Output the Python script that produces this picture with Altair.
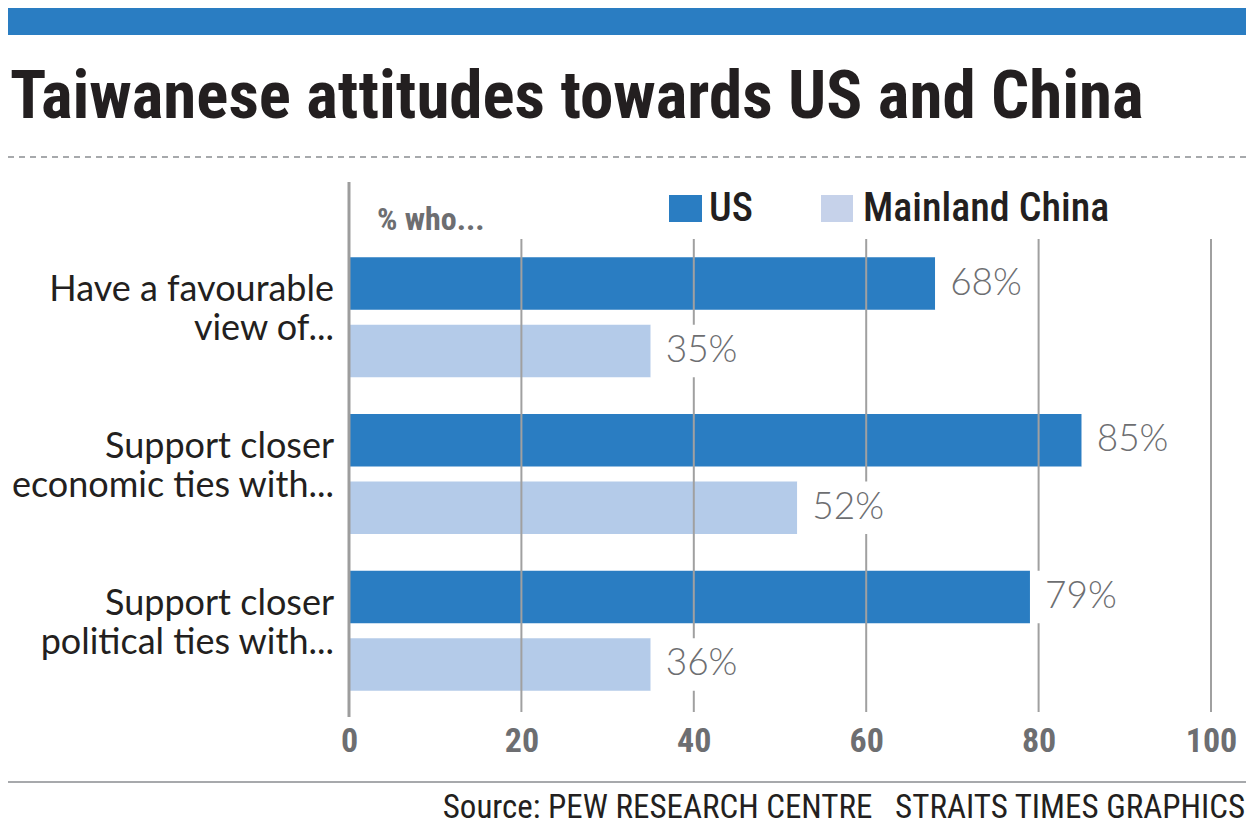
import altair as alt
import pandas as pd

categories = ["Have a favourable|view of...", "Support closer|economic ties with...", "Support closer|political ties with..."]
series = ["US", "Mainland China"]
us_values = [68, 85, 79]
china_values = [35, 52, 35]
us_labels = ["68%", "85%", "79%"]
china_labels = ["35%", "52%", "36%"]
ticks = [0, 20, 40, 60, 80, 100]
grid_ticks = [20, 40, 60, 80, 100]
colors = ["#2a7dc2", "#b4cbe9"]
legend_colors = ["#2a7dc2", "#c6d2ea"]

title_text = "Taiwanese attitudes towards US and China"
subtitle_text = "% who..."
source_text = "Source: PEW RESEARCH CENTRE\u00a0\u00a0\u00a0STRAITS TIMES GRAPHICS"

COND = "'Roboto Condensed', 'Liberation Sans Narrow', 'DejaVu Sans Condensed', sans-serif"
BODY = "Lato, 'Open Sans', sans-serif"

rows = []
for c, u, m, ul, ml in zip(categories, us_values, china_values, us_labels, china_labels):
    rows.append({"category": c, "series": series[0], "value": u, "label": ul})
    rows.append({"category": c, "series": series[1], "value": m, "label": ml})
df = pd.DataFrame(rows)

W, H = 862, 470

xs = alt.Scale(domain=[0, 100], nice=False, zero=True)
y_enc = alt.Y("category:N", sort=categories, scale=alt.Scale(paddingInner=0, paddingOuter=0), axis=None)
yo_enc = alt.YOffset("series:N", sort=series, scale=alt.Scale(paddingInner=0.222, paddingOuter=0.272))

base = alt.Chart(df)

bars = base.mark_bar().encode(
    x=alt.X("value:Q", scale=xs,
            axis=alt.Axis(values=ticks, grid=False, domain=False, ticks=False, title=None,
                          labelFont=COND, labelFontSize=34, labelFontWeight="bold", labelFlush=False,
                          labelColor="#6d6e71", labelPadding=15)),
    y=y_enc,
    yOffset=yo_enc,
    color=alt.Color("series:N", scale=alt.Scale(domain=series, range=colors), legend=None),
)

grid = alt.Chart(pd.DataFrame({"t": grid_ticks})).mark_rule(color="#a0a0a0", strokeWidth=2).encode(
    x=alt.X("t:Q", scale=xs),
    y=alt.value(0), y2=alt.value(H + 3),
)

masks = base.transform_calculate(v2="datum.value + 11").mark_bar(color="white").encode(
    x=alt.X("value:Q", scale=xs), x2="v2:Q", y=y_enc, yOffset=yo_enc,
)

vlabels = base.mark_text(align="left", baseline="middle", dx=15, font=BODY, fontSize=37,
                         fontWeight=300, color="#6d6e71").encode(
    x=alt.X("value:Q", scale=xs), y=y_enc, yOffset=yo_enc, text="label:N",
)

cat_df = pd.DataFrame({"category": categories})
catlabels = alt.Chart(cat_df).mark_text(align="right", baseline="middle", lineBreak="|",
                                        font=BODY, fontSize=36, lineHeight=39, color="#231f20", dy=-27).encode(
    x=alt.value(-15), y=y_enc, text="category:N",
)

zero_line = alt.Chart(pd.DataFrame({"z": [0]})).mark_rule(color="#9d9d9d", strokeWidth=3).encode(
    x=alt.X("z:Q", scale=xs), y=alt.value(-57), y2=alt.value(478),
)

band = alt.Chart(pd.DataFrame({"a": [0]})).mark_rect(color="#2a7dc2").encode(
    x=alt.value(-341), x2=alt.value(905), y=alt.value(-231), y2=alt.value(-204),
)

title = alt.Chart(pd.DataFrame({"t": [title_text]})).mark_text(
    align="left", baseline="alphabetic", font=COND, fontSize=67, fontWeight="bold", color="#231f20"
).encode(x=alt.value(-339), y=alt.value(-121), text="t:N")

dashed = alt.Chart(pd.DataFrame({"a": [0]})).mark_rule(color="#a7a9ac", strokeWidth=2, strokeDash=[6, 5]).encode(
    x=alt.value(-341), x2=alt.value(905), y=alt.value(-82),
)

who = alt.Chart(pd.DataFrame({"t": [subtitle_text]})).mark_text(
    align="left", baseline="alphabetic", font=COND, fontSize=32, fontWeight="bold", color="#6d6e71"
).encode(x=alt.value(28), y=alt.value(-9), text="t:N")

leg_us_sw = alt.Chart(pd.DataFrame({"s": [series[0]]})).mark_rect(color=legend_colors[0]).encode(
    x=alt.value(320), x2=alt.value(353), y=alt.value(-44), y2=alt.value(-17))
leg_cn_sw = alt.Chart(pd.DataFrame({"s": [series[1]]})).mark_rect(color=legend_colors[1]).encode(
    x=alt.value(472), x2=alt.value(504), y=alt.value(-44), y2=alt.value(-17))
leg_us_t = alt.Chart(pd.DataFrame({"s": [series[0]]})).mark_text(
    align="left", baseline="alphabetic", font=COND, fontSize=40, fontWeight=500, color="#231f20"
).encode(x=alt.value(360), y=alt.value(-18), text="s:N")
leg_cn_t = alt.Chart(pd.DataFrame({"s": [series[1]]})).mark_text(
    align="left", baseline="alphabetic", font=COND, fontSize=40, fontWeight=500, color="#231f20"
).encode(x=alt.value(514), y=alt.value(-18), text="s:N")

bottom_line = alt.Chart(pd.DataFrame({"a": [0]})).mark_rule(color="#a7a9ac", strokeWidth=2).encode(
    x=alt.value(-341), x2=alt.value(901), y=alt.value(543),
)

source = alt.Chart(pd.DataFrame({"t": [source_text]})).mark_text(
    align="right", baseline="alphabetic", font=COND, fontSize=33, color="#231f20"
).encode(x=alt.value(896), y=alt.value(579), text="t:N")

chart = alt.layer(
    band, title, dashed, bars, grid, masks, vlabels, catlabels, zero_line, who,
    leg_us_sw, leg_cn_sw, leg_us_t, leg_cn_t, bottom_line, source
).properties(
    width=W, height=H,
    autosize=alt.AutoSizeParams(type="none"),
    padding={"left": 341, "top": 231, "right": 35, "bottom": 110},
).configure_view(stroke=None)

chart.save("out.html", embed_options={"renderer": "svg", "actions": False})
